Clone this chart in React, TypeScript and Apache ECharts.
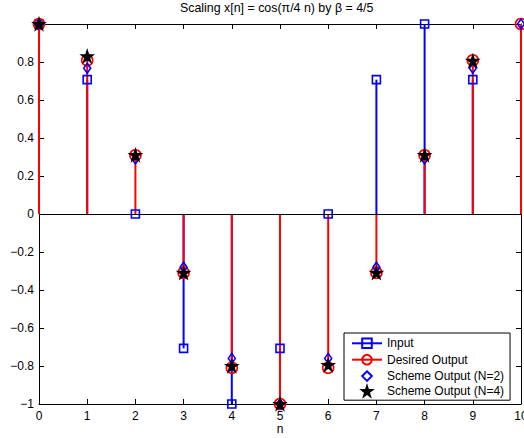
import React, { useEffect, useRef } from "react";
import * as echarts from "echarts";

const nInput = [0, 1, 2, 3, 4, 5, 6, 7, 8, 9];
const inputValues = [1, 0.7071, 0, -0.7071, -1, -0.7071, 0, 0.7071, 1, 0.7071];

const nDesired = [0, 1, 2, 3, 4, 5, 6, 7, 8, 9, 10];
const desiredValues = [1, 0.809, 0.309, -0.309, -0.809, -1, -0.809, -0.309, 0.309, 0.809, 1];

const nScheme2 = [0, 1, 2, 3, 4, 5, 6, 7, 8, 9, 10];
const scheme2Values = [1, 0.767, 0.29, -0.28, -0.76, -1, -0.76, -0.28, 0.29, 0.767, 1];

const nScheme4 = [0, 1, 2, 3, 4, 5, 6, 7, 8, 9];
const scheme4Values = [1, 0.83, 0.31, -0.31, -0.8, -1, -0.795, -0.31, 0.31, 0.806];

const xTicks = [0, 1, 2, 3, 4, 5, 6, 7, 8, 9, 10];
const yTicks = [-1, -0.8, -0.6, -0.4, -0.2, 0, 0.2, 0.4, 0.6, 0.8, 1];

const titleText = "Scaling x[n] = cos(\u03c0/4 n) by \u03b2 = 4/5";
const names = ["Input", "Desired Output", "Scheme Output (N=2)", "Scheme Output (N=4)"];

const BLUE = "#0000ff";
const RED = "#ff0000";
const FONT = "'Liberation Sans', Arial, Helvetica, sans-serif";
const STAR =
  "path://M10 0 L12.245 6.91 L19.511 6.91 L13.633 11.18 L15.878 18.09 L10 13.82 L4.122 18.09 L6.367 11.18 L0.489 6.91 L7.755 6.91 Z";

const pairs = (xs: number[], ys: number[]) => xs.map((x, i) => [x, ys[i]]);

function stemSeries(data: number[][], color: string) {
  return {
    type: "custom",
    name: "_stem_" + color,
    xAxisIndex: 0,
    yAxisIndex: 0,
    data,
    encode: { x: 0, y: 1 },
    silent: true,
    z: 2,
    renderItem: (_params: any, api: any) => {
      const x = api.value(0);
      const y = api.value(1);
      const p0 = api.coord([x, 0]);
      const p1 = api.coord([x, y]);
      return {
        type: "line",
        shape: { x1: p0[0], y1: p0[1], x2: p1[0], y2: p1[1] },
        style: { stroke: color, lineWidth: 2 },
      };
    },
  };
}

function markerSeries(
  name: string,
  data: number[][],
  symbol: string,
  size: any,
  fill: string,
  border: string,
  z: number
) {
  return {
    type: "line",
    name,
    data,
    xAxisIndex: 0,
    yAxisIndex: 0,
    symbol,
    symbolSize: size,
    showSymbol: true,
    showAllSymbol: true,
    z,
    lineStyle: { width: 0, opacity: 0, color: border },
    itemStyle: { color: fill, borderColor: border, borderWidth: 1.6 },
    emphasis: { disabled: true },
  };
}

export default function App() {
  const ref = useRef<HTMLDivElement>(null);

  useEffect(() => {
    document.body.style.margin = "0";
    const chart = echarts.init(ref.current!, null, { renderer: "svg" });
    const axisCommon = {
      type: "value",
      axisLine: { show: true, onZero: false, lineStyle: { color: "#000", width: 1 } },
      axisTick: { show: true, inside: true, length: 5, lineStyle: { color: "#000" } },
      splitLine: { show: false },
    };
    const fmtY = (v: number) => {
      const r = Math.round(v * 10) / 10;
      if (r === 1) return "";
      return String(r).replace("-", "\u2212");
    };
    chart.setOption({
      animation: false,
      backgroundColor: "#fff",
      textStyle: { fontFamily: FONT },
      title: {
        text: titleText,
        left: 180,
        top: 2,
        padding: 0,
        textStyle: { fontSize: 12.4, fontWeight: "normal", color: "#000", fontFamily: FONT },
      },
      grid: {
        left: 39,
        right: 3,
        top: 24,
        bottom: 34,
        containLabel: false,
        outerBoundsMode: "none",
      },
      xAxis: [
        {
          ...axisCommon,
          position: "bottom",
          min: xTicks[0],
          max: xTicks[xTicks.length - 1],
          interval: 1,
          axisLabel: { fontSize: 12, lineHeight: 12, color: "#000", margin: 6, fontFamily: FONT },
          name: "n",
          nameLocation: "middle",
          nameGap: 19,
          nameMoveOverlap: false,
          nameTextStyle: { fontSize: 12, lineHeight: 12, color: "#000", fontFamily: FONT },
        },
        {
          ...axisCommon,
          position: "top",
          min: xTicks[0],
          max: xTicks[xTicks.length - 1],
          interval: 1,
          axisLabel: { show: false },
        },
      ],
      yAxis: [
        {
          ...axisCommon,
          position: "left",
          min: yTicks[0],
          max: yTicks[yTicks.length - 1],
          interval: 0.2,
          axisLabel: { fontSize: 12, color: "#000", margin: 5, formatter: fmtY, fontFamily: FONT },
        },
        {
          ...axisCommon,
          position: "right",
          min: yTicks[0],
          max: yTicks[yTicks.length - 1],
          interval: 0.2,
          axisLabel: { show: false },
        },
      ],
      legend: {
        orient: "vertical",
        left: 344,
        top: 333,
        width: 170,
        backgroundColor: "#fff",
        borderColor: "#000",
        borderWidth: 1,
        borderRadius: 0,
        padding: [3, 6, 3, 7],
        itemGap: 1.8,
        itemWidth: 30,
        itemHeight: 12,
        selectedMode: false,
        textStyle: { fontSize: 12, color: "#000", fontFamily: FONT },
        data: [
          { name: names[0], lineStyle: { width: 2, opacity: 1, color: BLUE } },
          { name: names[1], lineStyle: { width: 2, opacity: 1, color: RED } },
          { name: names[2] },
          { name: names[3] },
        ],
      },
      series: [
        stemSeries(pairs(nInput, inputValues), BLUE),
        stemSeries(pairs(nDesired, desiredValues), RED),
        {
          ...markerSeries(names[0], pairs(nInput, inputValues), "rect", 8, "none", BLUE, 3),
          markLine: {
            silent: true,
            symbol: ["none", "none"],
            label: { show: false },
            lineStyle: { color: "#000", width: 1, type: "solid" },
            data: [{ yAxis: 0 }],
          },
        },
        markerSeries(names[1], pairs(nDesired, desiredValues), "circle", 11, "none", RED, 4),
        markerSeries(names[2], pairs(nScheme2, scheme2Values), "diamond", [7, 10], "none", BLUE, 5),
        markerSeries(names[3], pairs(nScheme4, scheme4Values), STAR, 11, "#000", "#000", 6),
      ],
    });
    return () => chart.dispose();
  }, []);

  return (
    <div
      ref={ref}
      style={{ position: "absolute", left: 0, top: 0, width: 524, height: 438, background: "#fff" }}
    />
  );
}
